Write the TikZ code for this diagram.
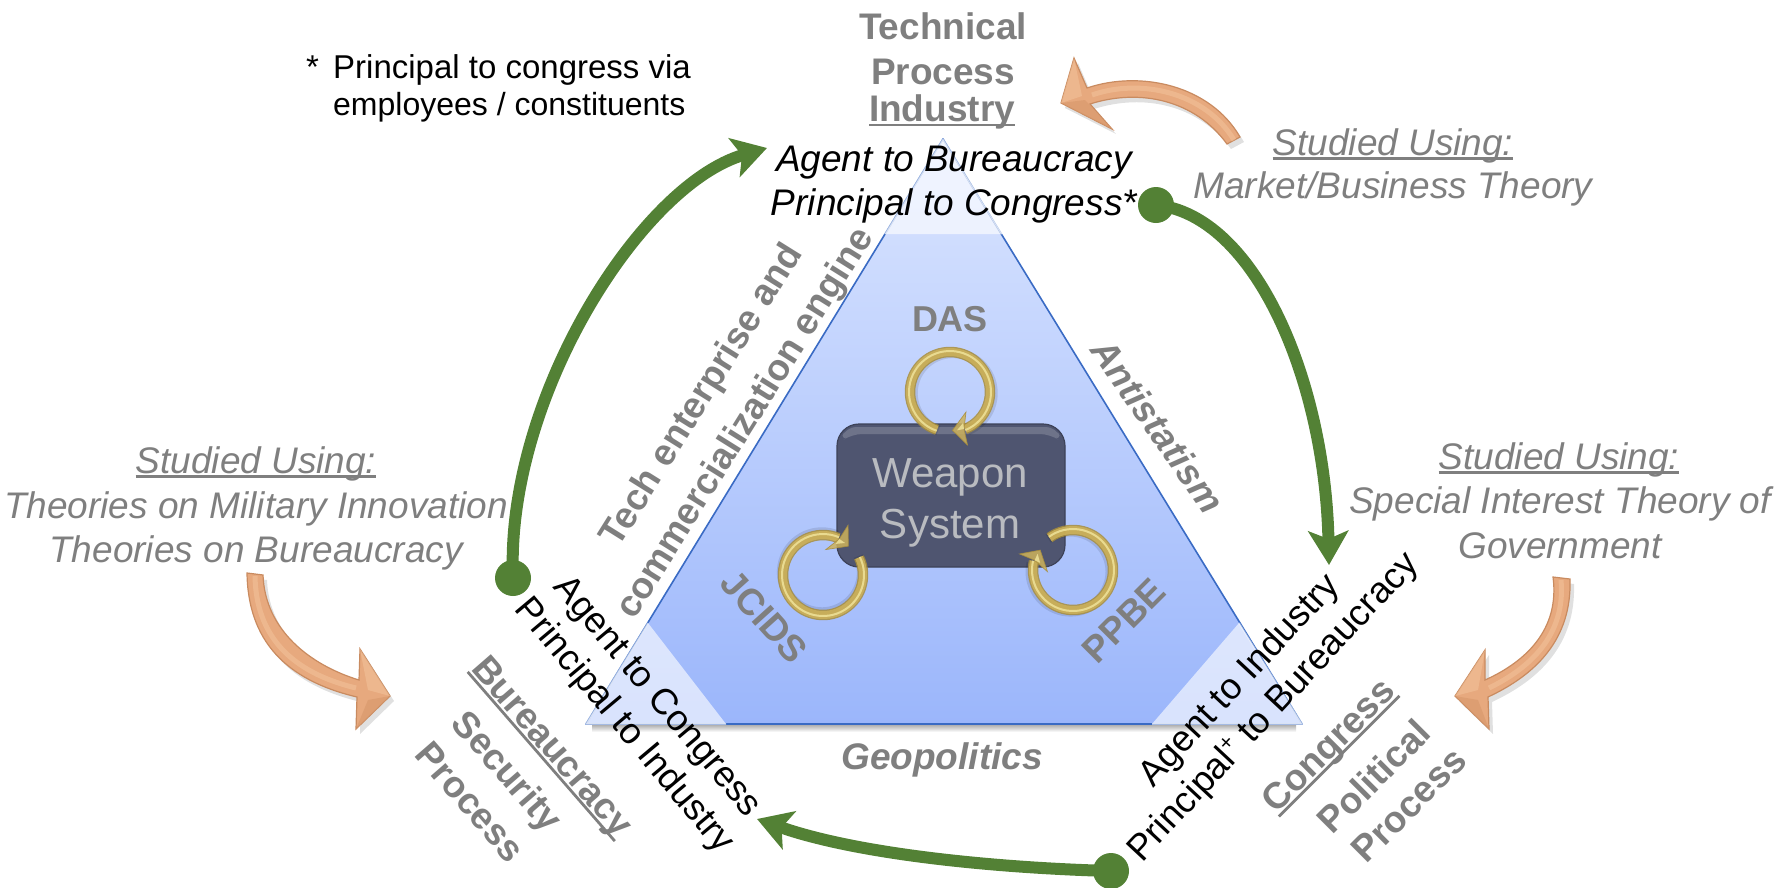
\documentclass[tikz,border=0pt]{standalone}
\usepackage{fontspec}
\setmainfont{Liberation Sans}
\usetikzlibrary{arrows.meta}
\definecolor{gtext}{HTML}{7F7F7F}
\definecolor{grn}{HTML}{538135}
\definecolor{tedge}{HTML}{3A6BC4}
\definecolor{orng}{HTML}{E7A97E}
\definecolor{orngd}{HTML}{C98B60}
\definecolor{orngl}{HTML}{F3C49C}
\definecolor{orngm}{HTML}{D99A6E}
\definecolor{wsfill}{HTML}{4F5570}
\definecolor{wsedge}{HTML}{3D4258}
\definecolor{wstext}{HTML}{B9BBC0}
\definecolor{tritop}{HTML}{DAE5FF}
\definecolor{tribot}{HTML}{9BB6FB}
\definecolor{ringa}{HTML}{A88E3C}
\definecolor{ringb}{HTML}{CDB25C}
\definecolor{ringc}{HTML}{EFE39A}
\newcommand{\ulin}[1]{\setbox0\hbox{#1}\rlap{\rule[-0.13em]{\wd0}{0.075em}}\box0}
\tikzset{
  lbl/.style={inner sep=0pt,text height=27pt,text depth=8pt,font=\fontsize{37}{44}\selectfont},
  greyb/.style={lbl,text=gtext,font=\fontsize{37}{44}\selectfont\bfseries},
  greybi/.style={lbl,text=gtext,font=\fontsize{37}{44}\selectfont\bfseries\itshape},
  greyi/.style={lbl,text=gtext,font=\fontsize{37}{44}\selectfont\itshape},
  blk/.style={lbl,text=black,font=\fontsize{36.4}{44}\selectfont},
  blki/.style={lbl,text=black,font=\fontsize{37}{44}\selectfont\itshape},
  note/.style={inner sep=0pt,anchor=west,text=black,text height=24pt,text depth=7pt,font=\fontsize{33}{40}\selectfont},
  gline/.style={draw=grn,line width=12pt,-{Stealth[length=34pt,width=40pt,inset=8pt]}},
  gdot/.style={circle,fill=grn,inner sep=0pt,minimum size=36pt},
  orangearrow/.style={fill=orng,draw=orngd,line width=1.2pt,line join=miter},
  ohigh/.style={draw=orngl,line width=5pt,opacity=.55},
  ofacetl/.style={fill=orngl,opacity=.55},
  ofacetd/.style={fill=orngm,opacity=.7},
  oshadow/.style={fill=black,opacity=.12},
  wsbox/.style={draw=wsedge,line width=1.2pt,fill=wsfill,rounded corners=22pt,minimum width=228pt,minimum height=143pt,inner sep=0pt}
}
% self-loop ring: centre, rotation
\newcommand{\selfring}[3]{%
\begin{scope}[shift={(#1,#2)},rotate=#3]
  \draw[black,opacity=.10,line width=10pt] (-111:38pt) ++(2pt,-3pt) arc[start angle=-111,end angle=-428,radius=40pt];
  \begin{scope}[opacity=.85]
  \draw[ringa,line width=10.5pt] (-109:40pt) arc[start angle=-109,end angle=-428,radius=40pt];
  \draw[ringb,line width=8pt] (-109:40pt) arc[start angle=-109,end angle=-428,radius=40pt];
  \draw[ringc,line width=2pt] (-109:41pt) arc[start angle=-109,end angle=-428,radius=41pt];
  \fill[ringb,draw=ringa,line width=.7pt,line join=miter] (16pt,-20pt) -- (2.5pt,-38.3pt) -- (17.5pt,-53pt) -- (14pt,-37pt) -- cycle;
  \fill[ringc] (13pt,-31pt) -- (7pt,-38.3pt) -- (14pt,-37pt) -- cycle;
  \end{scope}
\end{scope}}
\begin{document}
\begin{tikzpicture}[x=1pt,y=-1pt]
\useasboundingbox (0,0) rectangle (1791,887);
% triangle
\shade[top color=black!35,bottom color=white] (592,724) rectangle (1296,732);
\coordinate (ta) at (943,139);
\coordinate (tl) at (586,724);
\coordinate (tr) at (1302,724);
\shade[top color=tritop,bottom color=tribot] (ta) -- (tr) -- (tl) -- cycle;
\draw[tedge,line width=1.6pt,line join=round] (ta) -- (tr) -- (tl) -- cycle;
\fill[white,opacity=.62] (ta) -- (1002,234) -- (885,234) -- cycle;
\fill[white,opacity=.62] (tl) -- (648,623) -- (726,724) -- cycle;
\fill[white,opacity=.62] (tr) -- (1239,623) -- (1152,724) -- cycle;
\draw[white,opacity=.5,line width=1.6pt] (tl) -- (648,623) (tl) -- (726,724) (tr) -- (1239,623) (tr) -- (1152,724) (ta) -- (1002,234) (ta) -- (885,234);
% weapon system
\node[wsbox] (ws) at (951,495.5) {};
\fill[white,opacity=.18,rounded corners=10pt] (846,427) -- (1056,427) -- (1062,442) -- (1050,434) -- (852,434) -- (840,442) -- cycle;
\node[inner sep=0pt,text=wstext,align=center,font=\fontsize{42}{51}\selectfont] (wstxt) at (950,503) {Weapon\\System};
% rings
\selfring{950}{392}{0}
\selfring{823}{575}{135}
\selfring{1073}{570}{-125}
% orange arrows
\begin{scope}[shift={(4,5)}]
\fill[oshadow] (1240,137) .. controls (1210,85) and (1140,70) .. (1087,88) -- (1074,58) -- (1061,103) -- (1112,129) -- (1090,104) .. controls (1140,88) and (1195,100) .. (1227,144) -- cycle;
\fill[oshadow] (247,573) .. controls (248,640) and (285,680) .. (357,697) -- (356,729) -- (390,696) -- (360,649) -- (359,680) .. controls (310,665) and (265,630) .. (263,575) -- cycle;
\fill[oshadow] (1570,579) .. controls (1572,640) and (1535,675) .. (1488,697) -- (1489,729) -- (1455,696) -- (1485,650) -- (1485,680) .. controls (1525,662) and (1560,630) .. (1553,577) -- cycle;
\end{scope}
\path[orangearrow] (1240,137) .. controls (1210,85) and (1140,70) .. (1087,88) -- (1074,58) -- (1061,103) -- (1112,129) -- (1090,104) .. controls (1140,88) and (1195,100) .. (1227,144) -- cycle;
\path[orangearrow] (247,573) .. controls (248,640) and (285,680) .. (357,697) -- (356,729) -- (390,696) -- (360,649) -- (359,680) .. controls (310,665) and (265,630) .. (263,575) -- cycle;
\path[orangearrow] (1570,579) .. controls (1572,640) and (1535,675) .. (1488,697) -- (1489,729) -- (1455,696) -- (1485,650) -- (1485,680) .. controls (1525,662) and (1560,630) .. (1553,577) -- cycle;
\draw[ohigh] (1234,140) .. controls (1205,92) and (1140,78) .. (1092,95);
\draw[ohigh] (255,576) .. controls (256,635) and (290,672) .. (356,688);
\draw[ohigh] (1561,580) .. controls (1566,635) and (1530,668) .. (1489,688);
\fill[ofacetl] (1074,58) -- (1061,103) -- (1082,96) -- cycle;
\fill[ofacetd] (1112,129) -- (1061,103) -- (1085,100) -- cycle;
\fill[ofacetl] (360,649) -- (390,696) -- (368,690) -- cycle;
\fill[ofacetd] (356,729) -- (390,696) -- (368,700) -- cycle;
\fill[ofacetl] (1485,650) -- (1455,696) -- (1478,690) -- cycle;
\fill[ofacetd] (1489,729) -- (1455,696) -- (1478,700) -- cycle;
% top labels
\node[greyb] (t1) at (943,30) {Technical};
\node[greyb] (t2) at (943,75) {Process};
\node[greyb] (t3) at (942,112) {\ulin{Industry}};
\node[blki] (a1) at (954,162) {Agent to Bureaucracy};
\node[blki] (a2) at (954,206) {Principal to Congress*};
% note
\node[note] (n0) at (306,70) {*};
\node[note] (n1) at (333,70) {Principal to congress via};
\node[note,font=\fontsize{32}{40}\selectfont] (n2) at (333,107) {employees / constituents};
% studied using
\node[greyi] (s1) at (1393,145.5) {\ulin{Studied Using:}};
\node[greyi] (s2) at (1393,189) {Market/Business Theory};
\node[greyi] (l1) at (256,463.5) {\ulin{Studied Using:}};
\node[greyi] (l2) at (256,508.5) {Theories on Military Innovation};
\node[greyi] (l3) at (256,552.5) {Theories on Bureaucracy};
\node[greyi] (r1) at (1559,459.5) {\ulin{Studied Using:}};
\node[greyi] (r2) at (1560,503.5) {Special Interest Theory of};
\node[greyi] (r3) at (1560,548.5) {Government};
% inner labels
\node[greyb,font=\fontsize{36}{44}\selectfont\bfseries] (das) at (950,321.5) {DAS};
\node[greyb,rotate=-48] (jc) at (762,619) {JCIDS};
\node[greyb,rotate=45] (pp) at (1126,623) {PPBE};
\node[greyb,rotate=58] (e1) at (703,396) {Tech enterprise and};
\node[greyb,rotate=58] (e2) at (746,424) {commercialization engine};
\node[greybi,rotate=-55] (anti) at (1155,428) {Antistatism};
\node[greybi] (geo) at (942,759.5) {Geopolitics};
% left corner
\node[blk,rotate=-50] (b1) at (657,697) {Agent to Congress};
\node[blk,rotate=-50] (b2) at (624,726) {Principal to Industry};
\node[greyb,rotate=-49] (b3) at (551,748) {\ulin{Bureaucracy}};
\node[greyb,rotate=-49] (b4) at (505,773) {Security};
\node[greyb,rotate=-49] (b5) at (468,804) {Process};
% right corner
\node[blk,rotate=47] (c1) at (1240,681) {Agent to Industry};
\node[blk,rotate=47] (c2) at (1274,708) {Principal\raisebox{.35em}{\fontsize{22}{22}\selectfont +} to Bureaucracy};
\node[greyb,rotate=45] (c3) at (1330,747) {\ulin{Congress}};
\node[greyb,rotate=45] (c4) at (1376,779) {Political};
\node[greyb,rotate=45] (c5) at (1411,807) {Process};
% green arrows
\node[gdot] (d1) at (513,578) {};
\node[gdot] (d2) at (1156,205) {};
\node[gdot] (d3) at (1111,871) {};
\coordinate (g1) at (767,148);
\coordinate (g2) at (1329,565);
\coordinate (g3) at (757,819);
\draw[gline] (d1.center) .. controls (505,400) and (640,185) .. (g1);
\draw[gline] (d2.center) .. controls (1255,215) and (1325,380) .. (g2);
\draw[gline] (d3.center) .. controls (1000,868) and (860,855) .. (g3);
\end{tikzpicture}
\end{document}
